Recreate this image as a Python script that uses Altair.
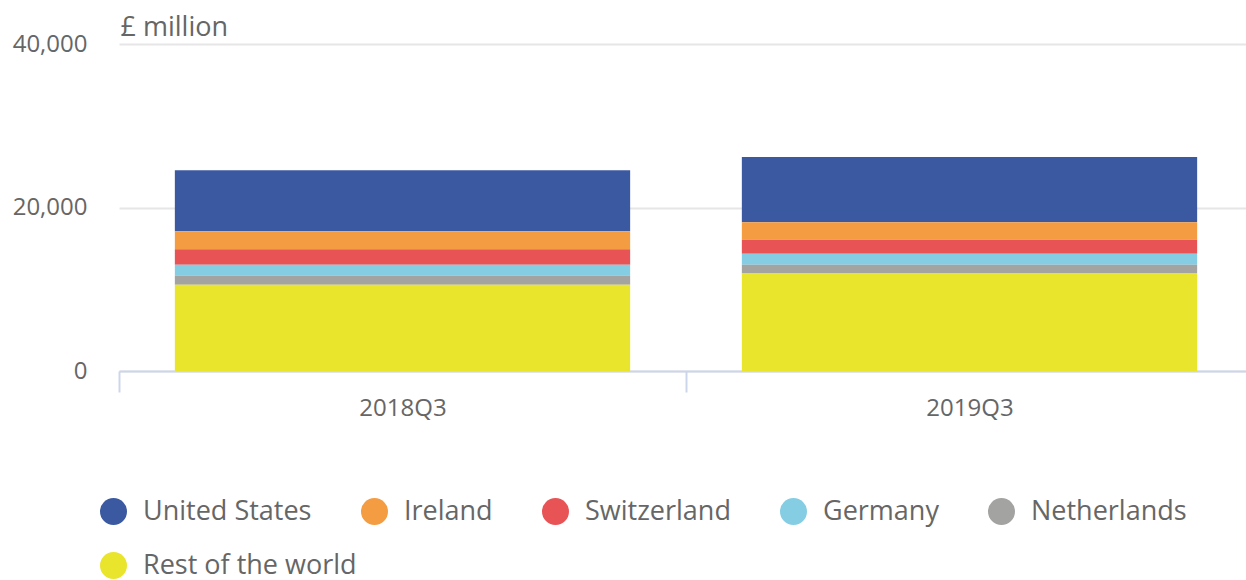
import altair as alt
import pandas as pd

periods = ["2018Q3", "2019Q3"]
countries = ["United States", "Ireland", "Switzerland", "Germany", "Netherlands", "Rest of the world"]
colors = ["#3b59a0", "#f49c42", "#e85356", "#85cde3", "#a3a3a1", "#e9e42c"]
# stack order: bottom first
stack_rank = {"Rest of the world": 0, "Netherlands": 1, "Germany": 2, "Switzerland": 3, "Ireland": 4, "United States": 5}
values_2018 = [7460, 2200, 1910, 1350, 1100, 10540]
values_2019 = [7980, 2160, 1710, 1340, 1050, 11940]
y_ticks = [0, 20000, 40000]

rows = []
for p, vals in zip(periods, [values_2018, values_2019]):
    for c, v in zip(countries, vals):
        rows.append({"period": p, "country": c, "value": v, "rank": stack_rank[c]})
df = pd.DataFrame(rows)

FONT = "Open Sans"
GREY = "#666666"

legend_common = dict(title=None, orient="none", legendX=-19, direction="horizontal",
                     symbolType="circle", symbolSize=729, symbolStrokeWidth=0,
                     symbolOpacity=1, labelFontSize=27, labelColor=GREY,
                     labelFont=FONT, labelOffset=16, columnPadding=49, labelLimit=400)

x_enc = alt.X("period:N", title=None,
              scale=alt.Scale(paddingInner=0, paddingOuter=0, range=[0, 1134]),
              axis=alt.Axis(labelAngle=0, labelFontSize=24, labelColor=GREY, labelFont=FONT,
                            domainColor="#ccd6eb", domainWidth=2, tickColor="#ccd6eb", tickWidth=2,
                            tickSize=21, tickBand="extent", labelPadding=4))
y_axis = alt.Axis(values=y_ticks, format=",.0f", domain=False, ticks=False,
                  labelFontSize=24, labelColor=GREY, labelFont=FONT, labelPadding=32,
                  gridColor="#e6e6e6", gridWidth=2,
                  titleAngle=0, titleAlign="left", titleBaseline="alphabetic",
                  titleX=1, titleY=-9, titleFontSize=27, titleFontWeight="normal",
                  titleColor=GREY, titleFont=FONT)
y_scale = alt.Scale(domain=[0, 40000], nice=False)

bars = alt.Chart(df).mark_bar(width=alt.RelativeBandSize(0.803)).encode(
    x=x_enc,
    y=alt.Y("value:Q", title="£ million", scale=y_scale, axis=y_axis),
    color=alt.Color("country:N", scale=alt.Scale(domain=countries, range=colors),
                    legend=alt.Legend(values=countries[:5], legendY=454, **legend_common)),
    order=alt.Order("rank:Q", sort="ascending"),
)

# second legend row (the wrapped entry), drawn with invisible points
rest = alt.Chart(df[df["country"] == countries[5]]).mark_point(
    filled=True, size=0, color=colors[5]
).encode(
    x=x_enc,
    y=alt.Y("value:Q", title="£ million", scale=y_scale, axis=y_axis),
    shape=alt.Shape("country:N", scale=alt.Scale(domain=[countries[5]], range=["circle"]),
                    legend=alt.Legend(legendY=508, symbolFillColor=colors[5], **legend_common)),
)

chart = alt.layer(bars, rest).resolve_legend(color="independent", shape="independent").properties(
    width=1127, height=327,
    autosize=alt.AutoSizeParams(type="none"),
    padding={"left": 119, "top": 44, "right": 0, "bottom": 209},
).configure_view(stroke=None)

chart.save("out.html", embed_options={"renderer": "svg", "actions": False})
